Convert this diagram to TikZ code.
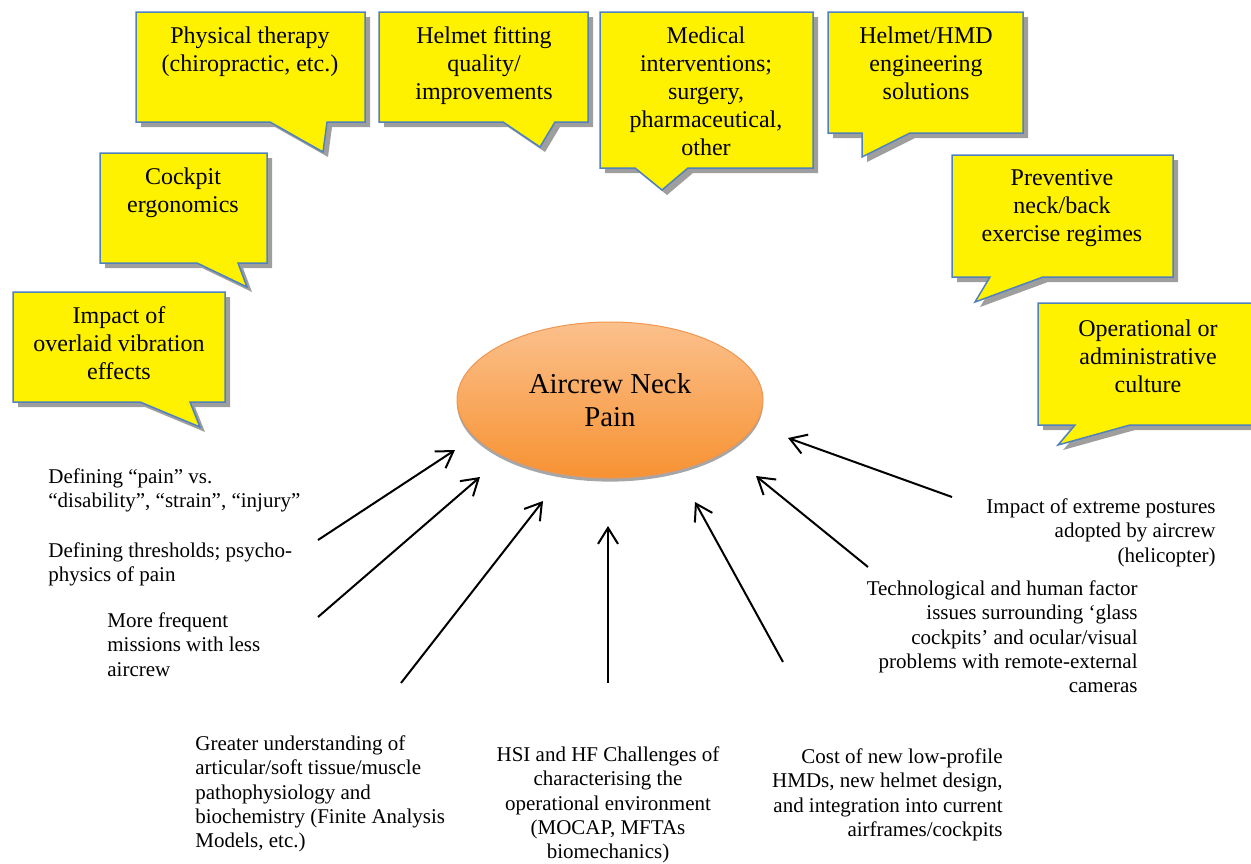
\documentclass[tikz,border=0pt]{standalone}
\usepackage{fontspec}
\setmainfont{Liberation Serif}
\usetikzlibrary{arrows.meta, positioning, shapes.geometric, shadows}
\definecolor{bubbleblue}{RGB}{79,129,189}
\definecolor{paintop}{RGB}{251,192,140}
\definecolor{painbot}{RGB}{247,146,50}
\definecolor{painrim}{RGB}{240,150,80}

\begin{document}
\begin{tikzpicture}[
  x=0.5pt, y=-0.5pt,
  bubble/.style={draw=bubbleblue, line width=0.75pt, fill=yellow,
    drop shadow={shadow xshift=2.5pt, shadow yshift=-2.5pt, fill=black!38, opacity=1}},
  btext/.style={anchor=north, align=center, inner sep=0pt, font=\fontsize{12}{14}\selectfont},
  hub/.style={ellipse, draw=painrim, line width=0.5pt, top color=paintop, bottom color=painbot,
    minimum width=153pt, minimum height=78pt, inner sep=0pt, align=center,
    font=\fontsize{14.4}{16.5}\selectfont,
    drop shadow={shadow xshift=0pt, shadow yshift=-1.8pt, fill=black!35, opacity=1}},
  lbl/.style={inner sep=0pt, font=\fontsize{10.5}{12.2}\selectfont},
  arr/.style={draw, -{Straight Barb[length=8pt, width=10pt]}, line width=1pt}
]
\clip (0,0) rectangle (1251,863);

% speech bubbles
\draw[bubble] (136,12) -- (365,12) -- (365,122) -- (327,122) -- (323,152) -- (270,122) -- (136,122) -- cycle;
\node[btext] (phys) at (250,26) {Physical therapy\\(chiropractic, etc.)};
\draw[bubble] (379,12) -- (588,12) -- (588,122) -- (555,122) -- (540,147) -- (503,122) -- (379,122) -- cycle;
\node[btext] (fit) at (484,26) {Helmet fitting\\quality/\\improvements};
\draw[bubble] (600,12) -- (813,12) -- (813,168) -- (688,168) -- (662,190) -- (635,168) -- (600,168) -- cycle;
\node[btext] (med) at (706,26) {Medical\\interventions;\\surgery,\\pharmaceutical,\\other};
\draw[bubble] (828,12) -- (1023,12) -- (1023,133) -- (910,133) -- (862,157) -- (862,133) -- (828,133) -- cycle;
\node[btext] (hmd) at (926,26) {Helmet/HMD\\engineering\\solutions};
\draw[bubble] (952,155) -- (1173,155) -- (1173,277) -- (1043,277) -- (975,302) -- (990,277) -- (952,277) -- cycle;
\node[btext] (prev) at (1062,169) {Preventive\\neck/back\\exercise regimes};
\draw[bubble] (1038,303) -- (1258,303) -- (1258,425) -- (1130,425) -- (1058,445) -- (1075,425) -- (1038,425) -- cycle;
\node[btext] (oper) at (1148,319) {Operational or\\administrative\\culture};
\draw[bubble] (100,153) -- (267,153) -- (267,263) -- (238,263) -- (247,287) -- (197,263) -- (100,263) -- cycle;
\node[btext] (cock) at (183,167) {Cockpit\\ergonomics};
\draw[bubble] (13,292) -- (225,292) -- (225,402) -- (190,402) -- (200,427) -- (140,402) -- (13,402) -- cycle;
\node[btext] (vib) at (119,306) {Impact of\\overlaid vibration\\effects};

% central ellipse
\node[hub] (pain) at (610,400) {Aircrew Neck\\Pain};

% contributing factors
\node[lbl, anchor=north west, align=left] (defpain) at (48,468) {Defining “pain” vs.\\“disability”, “strain”, “injury”};
\node[lbl, anchor=north west, align=left] (thresh) at (48,542) {Defining thresholds; psycho-\\physics of pain};
\node[lbl, anchor=north west, align=left] (missions) at (107,612) {More frequent\\missions with less\\aircrew};
\node[lbl, anchor=north west, align=left] (tissue) at (195,735) {Greater understanding of\\articular/soft tissue/muscle\\pathophysiology and\\biochemistry (Finite Analysis\\Models, etc.)};
\node[lbl, anchor=north, align=center] (hsi) at (608,746) {HSI and HF Challenges of\\characterising the\\operational environment\\(MOCAP, MFTAs\\biomechanics)};
\node[lbl, anchor=north east, align=right] (cost) at (1003,748) {Cost of new low-profile\\HMDs, new helmet design,\\and integration into current\\airframes/cockpits};
\node[lbl, anchor=north east, align=right] (glass) at (1138,580) {Technological and human factor\\issues surrounding ‘glass\\cockpits’ and ocular/visual\\problems with remote-external\\cameras};
\node[lbl, anchor=north east, align=right] (posture) at (1216,498) {Impact of extreme postures\\adopted by aircrew\\(helicopter)};

% arrows towards the ellipse
\coordinate (t1) at (318,540); \coordinate (h1) at (455,450);
\coordinate (t2) at (318,617); \coordinate (h2) at (480,477);
\coordinate (t3) at (401,683); \coordinate (h3) at (543,501);
\coordinate (t4) at (608,683); \coordinate (h4) at (608,526);
\coordinate (t5) at (783,662); \coordinate (h5) at (695,502);
\coordinate (t6) at (868,567); \coordinate (h6) at (756,476);
\coordinate (t7) at (952,497); \coordinate (h7) at (788,438);
\draw[arr] (t1) -- (h1); \draw[arr] (t2) -- (h2); \draw[arr] (t3) -- (h3);
\draw[arr] (t4) -- (h4); \draw[arr] (t5) -- (h5); \draw[arr] (t6) -- (h6);
\draw[arr] (t7) -- (h7);
\end{tikzpicture}
\end{document}
